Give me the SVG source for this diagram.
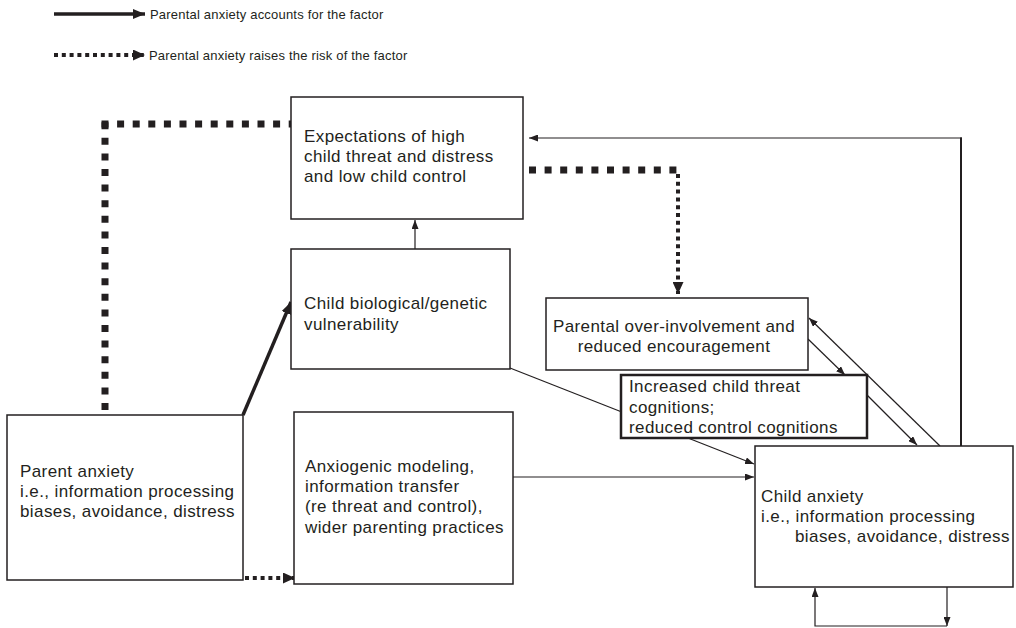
<svg xmlns="http://www.w3.org/2000/svg" width="1016" height="628" viewBox="0 0 1016 628">
  <style>
    text { font-family: "Liberation Sans", Arial, Helvetica, sans-serif; fill: #231f20; font-size: 17px; letter-spacing: 0.4px; }
    .legend { font-size: 13px; letter-spacing: 0.2px; }
    .box { fill: #ffffff; stroke: #231f20; stroke-width: 1.5; }
    .box-bold { fill: #ffffff; stroke: #231f20; stroke-width: 2.5; }
    .thin { fill: none; stroke: #231f20; stroke-width: 1.2; }
    .solid-bold { fill: none; stroke: #231f20; stroke-width: 3.5; }
    .dots-big { fill: none; stroke: #231f20; stroke-width: 7; stroke-dasharray: 7 8.6; }
    .dots-small { fill: none; stroke: #231f20; stroke-width: 4; stroke-dasharray: 4 3.8; }
  </style>
  <defs>
    <marker id="arrow" markerUnits="userSpaceOnUse" markerWidth="9" markerHeight="7" refX="9" refY="3.5" orient="auto">
      <path d="M0,0 L9,3.5 L0,7 z" fill="#231f20"/>
    </marker>
    <marker id="arrow-bold" markerUnits="userSpaceOnUse" markerWidth="12" markerHeight="10" refX="12" refY="5" orient="auto">
      <path d="M0,0 L12,5 L0,10 z" fill="#231f20"/>
    </marker>
    <marker id="arrow-dotted" markerUnits="userSpaceOnUse" markerWidth="12" markerHeight="11" refX="12" refY="5.5" orient="auto">
      <path d="M0,0 L12,5.5 L0,11 z" fill="#231f20"/>
    </marker>
  </defs>

  <!-- key -->
  <g id="legend">
    <line x1="54" y1="14" x2="145" y2="14" class="solid-bold" marker-end="url(#arrow-bold)"/>
    <text class="legend" x="150" y="19">Parental anxiety accounts for the factor</text>
    <line x1="54" y1="55" x2="145" y2="55" class="dots-small" marker-end="url(#arrow-dotted)"/>
    <text class="legend" x="149" y="60">Parental anxiety raises the risk of the factor</text>
  </g>

  <!-- connectors -->
  <g id="connectors">
    <!-- parent anxiety to expectations (raised risk) -->
    <line x1="105" y1="410" x2="105" y2="120.5" class="dots-big"/>
    <line x1="101.5" y1="124" x2="291" y2="124" class="dots-big"/>
    <!-- expectations to parental over-involvement (raised risk) -->
    <line x1="529" y1="170" x2="681" y2="170" class="dots-big"/>
    <line x1="678" y1="174" x2="678" y2="294" class="dots-small" marker-end="url(#arrow-dotted)"/>
    <!-- parent anxiety to child biological vulnerability -->
    <line x1="243" y1="415" x2="291" y2="302" class="solid-bold" marker-end="url(#arrow-bold)"/>
    <!-- parent anxiety to anxiogenic modeling -->
    <line x1="245" y1="578" x2="295" y2="578" class="dots-small" marker-end="url(#arrow-dotted)"/>
    <!-- biological vulnerability to expectations -->
    <line x1="415" y1="249" x2="415" y2="220" class="thin" marker-end="url(#arrow)"/>
    <!-- biological vulnerability to child anxiety -->
    <line x1="510" y1="368" x2="754" y2="464" class="thin" marker-end="url(#arrow)"/>
    <!-- anxiogenic modeling to child anxiety -->
    <line x1="513" y1="477" x2="754" y2="477" class="thin" marker-end="url(#arrow)"/>
    <!-- over-involvement to cognitions -->
    <line x1="808" y1="339" x2="845" y2="375" class="thin" marker-end="url(#arrow)"/>
    <!-- cognitions to child anxiety -->
    <line x1="867" y1="395" x2="917" y2="445" class="thin" marker-end="url(#arrow)"/>
    <!-- child anxiety back to over-involvement -->
    <line x1="940" y1="446" x2="809" y2="318" class="thin" marker-end="url(#arrow)"/>
    <!-- child anxiety back to expectations -->
    <line x1="961" y1="446" x2="961" y2="137.5" fill="none" stroke="#231f20" stroke-width="2"/>
    <line x1="962" y1="138" x2="529" y2="138" class="thin" marker-end="url(#arrow)"/>
    <!-- child anxiety self-maintaining loop -->
    <path d="M947,587 V626" class="thin" marker-end="url(#arrow)"/>
    <path d="M947,626 H815 V588" class="thin" marker-end="url(#arrow)"/>
  </g>

  <!-- nodes -->
  <g id="expectations">
    <rect x="291" y="97" width="232" height="122" class="box"/>
    <text x="304" y="142">Expectations of high</text>
    <text x="304" y="162">child threat and distress</text>
    <text x="304" y="182">and low child control</text>
  </g>
  <g id="biological-vulnerability">
    <rect x="291" y="249" width="219" height="120" class="box"/>
    <text x="304" y="309">Child biological/genetic</text>
    <text x="304" y="330">vulnerability</text>
  </g>
  <g id="parent-anxiety">
    <rect x="7" y="415" width="236" height="165" class="box"/>
    <text x="20" y="477">Parent anxiety</text>
    <text x="20" y="497">i.e., information processing</text>
    <text x="20" y="517">biases, avoidance, distress</text>
  </g>
  <g id="anxiogenic-modeling">
    <rect x="294" y="412" width="219" height="172" class="box"/>
    <text x="305" y="472">Anxiogenic modeling,</text>
    <text x="305" y="492">information transfer</text>
    <text x="305" y="512">(re threat and control),</text>
    <text x="305" y="533">wider parenting practices</text>
  </g>
  <g id="over-involvement">
    <rect x="546" y="298" width="262" height="72" class="box"/>
    <text x="674" y="332" text-anchor="middle">Parental over-involvement and</text>
    <text x="674" y="352" text-anchor="middle">reduced encouragement</text>
  </g>
  <g id="child-cognitions">
    <rect x="621" y="375" width="246" height="63" class="box-bold"/>
    <text x="629" y="392">Increased child threat</text>
    <text x="629" y="413">cognitions;</text>
    <text x="629" y="433">reduced control cognitions</text>
  </g>
  <g id="child-anxiety">
    <rect x="755" y="446" width="258" height="141" class="box"/>
    <text x="761" y="502">Child anxiety</text>
    <text x="761" y="522">i.e., information processing</text>
    <text x="795" y="542">biases, avoidance, distress</text>
  </g>
</svg>
